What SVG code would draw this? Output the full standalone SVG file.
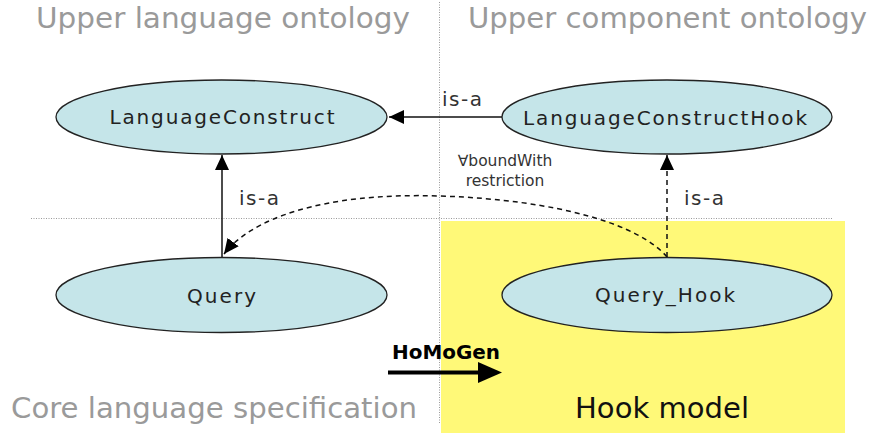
<svg xmlns="http://www.w3.org/2000/svg" width="873" height="435" viewBox="0 0 873 435">
  <style>
    .title { font-family: "DejaVu Sans", Verdana, sans-serif; font-size: 29px; fill: #9a9a9a; }
    .model { font-family: "DejaVu Sans", Verdana, sans-serif; font-size: 29px; fill: #111; }
    .node ellipse { fill: #c5e5e9; stroke: #222; stroke-width: 1.3; }
    .node text { font-family: "DejaVu Sans", Verdana, sans-serif; font-size: 20px; fill: #222; text-anchor: middle; }
    .label { font-family: "DejaVu Sans", Verdana, sans-serif; font-size: 20px; fill: #333; }
    .small { font-family: "DejaVu Sans", Verdana, sans-serif; font-size: 15.5px; fill: #333; text-anchor: middle; }
    .divider { stroke: #9a9a9a; stroke-width: 1; stroke-dasharray: 1 1.5; fill: none; }
    .edge { stroke: #111; stroke-width: 1.5; fill: none; }
    .dashed { stroke-dasharray: 5 4; }
  </style>
  <defs>
    <marker id="arrow" markerUnits="userSpaceOnUse" markerWidth="16" markerHeight="14" refX="15" refY="7" orient="auto">
      <path d="M0,0 L15,7 L0,14 z" fill="#000"/>
    </marker>
  </defs>

  <rect width="873" height="435" fill="#fff"/>

  <!-- hook model area -->
  <rect x="441" y="221" width="404" height="212" fill="#fff978"/>

  <!-- section dividers -->
  <line class="divider" x1="439.5" y1="2" x2="439.5" y2="424"/>
  <line class="divider" x1="31" y1="218.5" x2="833" y2="218.5"/>

  <!-- section titles -->
  <text class="title" x="36" y="28" textLength="374" lengthAdjust="spacingAndGlyphs">Upper language ontology</text>
  <text class="title" x="468" y="28" textLength="399" lengthAdjust="spacingAndGlyphs">Upper component ontology</text>
  <text class="title" x="11" y="418" textLength="406" lengthAdjust="spacingAndGlyphs">Core language specification</text>
  <text class="model" x="575" y="418" textLength="174" lengthAdjust="spacingAndGlyphs">Hook model</text>

  <!-- connectors -->
  <g id="connectors">
    <line class="edge" x1="502" y1="117" x2="389" y2="117" marker-end="url(#arrow)"/>
    <line class="edge" x1="222" y1="257" x2="222" y2="155" marker-end="url(#arrow)"/>
    <line class="edge dashed" x1="667" y1="257" x2="667" y2="155" marker-end="url(#arrow)"/>
    <path class="edge dashed" d="M667,257 C640,225 560,200 440,196 S250,220 224,254" marker-end="url(#arrow)"/>
    <text class="label" x="442" y="106" textLength="40" lengthAdjust="spacing">is-a</text>
    <text class="label" x="239" y="205" textLength="40" lengthAdjust="spacing">is-a</text>
    <text class="label" x="684" y="205" textLength="40" lengthAdjust="spacing">is-a</text>
    <text class="small" x="505" y="166">∀boundWith</text>
    <text class="small" x="505" y="186">restriction</text>
  </g>

  <!-- nodes -->
  <g id="languageConstruct" class="node">
    <ellipse cx="221.5" cy="117" rx="165.5" ry="37"/>
    <text x="222" y="124" textLength="225" lengthAdjust="spacing">LanguageConstruct</text>
  </g>
  <g id="languageConstructHook" class="node">
    <ellipse cx="667" cy="117" rx="165" ry="37"/>
    <text x="665" y="125" textLength="284" lengthAdjust="spacing">LanguageConstructHook</text>
  </g>
  <g id="query" class="node">
    <ellipse cx="221.5" cy="295" rx="165.5" ry="37.5"/>
    <text x="221.5" y="303" textLength="69" lengthAdjust="spacing">Query</text>
  </g>
  <g id="queryHook" class="node">
    <ellipse cx="667" cy="295" rx="165" ry="37.5"/>
    <text x="665" y="302" textLength="140" lengthAdjust="spacing">Query_Hook</text>
  </g>

  <!-- generator step -->
  <g id="homogen">
    <text x="392" y="359" font-family="'DejaVu Sans', Verdana, sans-serif" font-weight="bold" font-size="20" fill="#000" textLength="108" lengthAdjust="spacingAndGlyphs">HoMoGen</text>
    <line x1="388" y1="372.5" x2="480" y2="372.5" stroke="#000" stroke-width="4"/>
    <polygon points="478,362 502,372.5 478,383" fill="#000"/>
  </g>
</svg>
